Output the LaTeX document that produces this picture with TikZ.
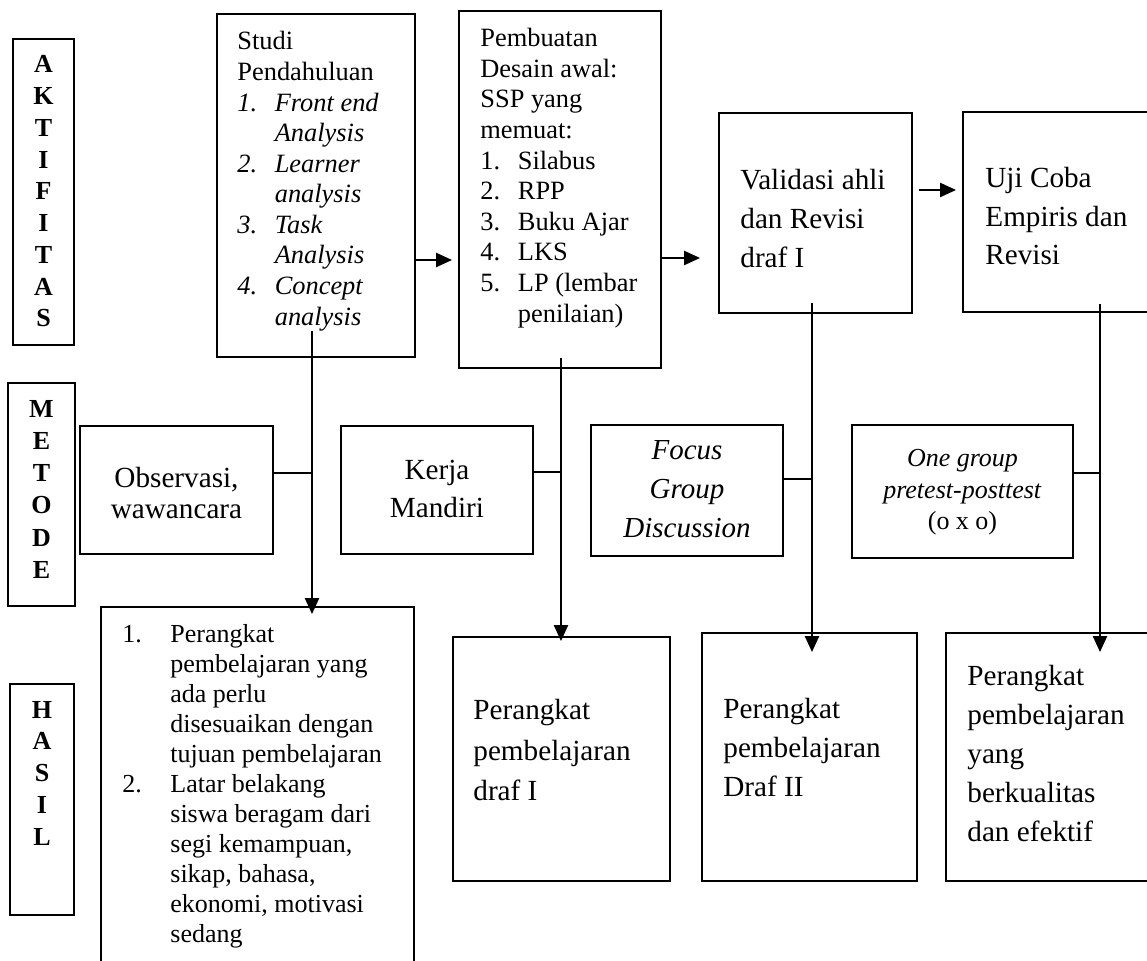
\documentclass[tikz,border=0pt]{standalone}
\usepackage{fontspec}
\setmainfont{Liberation Serif}
\usetikzlibrary{arrows.meta,calc}
\newcommand{\numlab}[2]{\makebox[#1][l]{#2}}
\tikzset{
 box/.style={draw, line width=0.9pt, rectangle, inner sep=0pt},
 conn/.style={line width=1.1pt},
 arr/.style={line width=1.1pt, -{Triangle[length=8pt,width=7pt]}},
 txt/.style={inner sep=0pt, anchor=base west},
 ctxt/.style={inner sep=0pt, anchor=base},
}
\begin{document}
\begin{tikzpicture}[x=0.5pt,y=-0.5pt]
\useasboundingbox (0,0) rectangle (1147,961);
\clip (0,0) rectangle (1147,961);
\fill[white] (0,0) rectangle (1147,961);

% boxes
\node[box, minimum width=30.5pt, minimum height=153pt] (akt) at (43.5,192) {};
\node[box, minimum width=33.5pt, minimum height=111.5pt] (met) at (41.5,494.5) {};
\node[box, minimum width=32pt, minimum height=115.5pt] (has) at (42,799.5) {};
\node[box, minimum width=99pt, minimum height=171.5pt] (studi) at (316,185.5) {};
\node[box, minimum width=101pt, minimum height=178.5pt] (pemb) at (560,189.5) {};
\node[box, minimum width=96.5pt, minimum height=100pt] (val) at (815.5,213) {};
\node[box, minimum width=98.5pt, minimum height=100pt] (uji) at (1061.5,212) {};
\node[box, minimum width=96.5pt, minimum height=64pt] (obs) at (176.5,490) {};
\node[box, minimum width=96pt, minimum height=64pt] (kerja) at (437,490) {};
\node[box, minimum width=96pt, minimum height=65.5pt] (fgd) at (687,490.5) {};
\node[box, minimum width=110.5pt, minimum height=66.5pt] (one) at (962.5,491.5) {};
\node[box, minimum width=156.5pt, minimum height=184pt] (h1) at (257.5,791) {};
\node[box, minimum width=108.5pt, minimum height=122pt] (h2) at (561.5,759) {};
\node[box, minimum width=107.5pt, minimum height=124pt] (h3) at (809.5,757) {};
\node[box, minimum width=107pt, minimum height=124pt] (h4) at (1053,757) {};

% side labels
\node[ctxt] (aktT) at (43.5,73) {\parbox[t]{20pt}{\centering\bfseries\fontsize{13}{15.875}\selectfont A\\K\\T\\I\\F\\I\\T\\A\\S}};
\node[ctxt] (metT) at (41.5,417.3) {\parbox[t]{20pt}{\centering\bfseries\fontsize{13}{16.1}\selectfont M\\E\\T\\O\\D\\E}};
\node[ctxt] (hasT) at (42,718.3) {\parbox[t]{20pt}{\centering\bfseries\fontsize{13}{15.85}\selectfont H\\A\\S\\I\\L}};

% activity texts
\node[txt] (studiT) at (237,50) {\parbox[t]{92pt}{\raggedright\fontsize{13.2}{15.28}\selectfont Studi\\Pendahuluan\\\itshape
\numlab{18.7pt}{1.}Front end\\\hspace*{18.7pt}Analysis\\
\numlab{18.7pt}{2.}Learner\\\hspace*{18.7pt}analysis\\
\numlab{18.7pt}{3.}Task\\\hspace*{18.7pt}Analysis\\
\numlab{18.7pt}{4.}Concept\\\hspace*{18.7pt}analysis}};
\node[txt] (pembT) at (480,46.7) {\parbox[t]{92pt}{\raggedright\fontsize{13.2}{15.3}\selectfont Pembuatan\\Desain awal:\\SSP yang\\memuat:\\
\numlab{18.75pt}{1.}Silabus\\
\numlab{18.75pt}{2.}RPP\\
\numlab{18.75pt}{3.}Buku Ajar\\
\numlab{18.75pt}{4.}LKS\\
\numlab{18.75pt}{5.}LP (lembar\\\hspace*{18.75pt}penilaian)}};
\node[txt] (valT) at (740,190) {\parbox[t]{90pt}{\raggedright\fontsize{14.6}{19.5}\selectfont Validasi ahli\\dan Revisi\\draf I}};
\node[txt] (ujiT) at (985,188) {\parbox[t]{90pt}{\raggedright\fontsize{14.6}{19.25}\selectfont Uji Coba\\Empiris dan\\Revisi}};

% method texts
\node[ctxt] (obsT) at (176.5,488) {\parbox[t]{90pt}{\centering\fontsize{14.6}{15.5}\selectfont Observasi,\\wawancara}};
\node[ctxt] (kerjaT) at (437,480) {\parbox[t]{90pt}{\centering\fontsize{14.6}{19}\selectfont Kerja\\Mandiri}};
\node[ctxt] (fgdT) at (687,460) {\parbox[t]{90pt}{\centering\itshape\fontsize{14.5}{19.5}\selectfont Focus\\Group\\Discussion}};
\node[ctxt] (oneT) at (962.5,466.7) {\parbox[t]{105pt}{\centering\fontsize{13}{15.75}\selectfont \textit{One group}\\\textit{pretest-posttest}\\(o x o)}};

% result texts
\node[txt] (h1T) at (122,643) {\parbox[t]{150pt}{\raggedright\fontsize{13}{15}\selectfont
\numlab{24pt}{1.}Perangkat\\\hspace*{24pt}pembelajaran yang\\\hspace*{24pt}ada perlu\\\hspace*{24pt}disesuaikan dengan\\\hspace*{24pt}tujuan pembelajaran\\
\numlab{24pt}{2.}Latar belakang\\\hspace*{24pt}siswa beragam dari\\\hspace*{24pt}segi kemampuan,\\\hspace*{24pt}sikap, bahasa,\\\hspace*{24pt}ekonomi, motivasi\\\hspace*{24pt}sedang}};
\node[txt] (h2T) at (473,720) {\parbox[t]{100pt}{\raggedright\fontsize{14.6}{20.25}\selectfont Perangkat\\pembelajaran\\draf I}};
\node[txt] (h3T) at (723,718.3) {\parbox[t]{100pt}{\raggedright\fontsize{14.6}{19.6}\selectfont Perangkat\\pembelajaran\\Draf II}};
\node[txt] (h4T) at (967,686) {\parbox[t]{100pt}{\raggedright\fontsize{14.6}{19.5}\selectfont Perangkat\\pembelajaran\\yang\\berkualitas\\dan efektif}};

% helper coordinates
\coordinate (c1) at (312,0);
\coordinate (c2) at (561,0);
\coordinate (c3) at (812,0);
\coordinate (c4) at (1100,0);
\coordinate (r1) at (0,260);
\coordinate (r2) at (0,258);
\coordinate (r3) at (0,190);
\coordinate (m1) at (0,473);
\coordinate (m2) at (0,472);
\coordinate (m3) at (0,479);
\coordinate (m4) at (0,473);

% horizontal arrows
\draw[arr, shorten >=3pt] (studi.east |- r1) -- (pemb.west |- r1);
\draw[arr, shorten >=9pt] (pemb.east |- r2) -- (val.west |- r2);
\draw[arr, shorten <=3pt, shorten >=3pt] (val.east |- r3) -- (uji.west |- r3);

% vertical arrows
\draw[arr, shorten <=-13.5pt, shorten >=-4pt] (c1 |- studi.south) -- (c1 |- h1.north);
\draw[arr, shorten <=-5.5pt, shorten >=-2.5pt] (c2 |- pemb.south) -- (c2 |- h2.north);
\draw[arr, shorten <=-5.5pt, shorten >=-10pt] (c3 |- val.south) -- (c3 |- h3.north);
\draw[arr, shorten <=-4.5pt, shorten >=-10pt] (c4 |- uji.south) -- (c4 |- h4.north);

% method links
\draw[conn] (obs.east |- m1) -- (c1 |- m1);
\draw[conn] (kerja.east |- m2) -- (c2 |- m2);
\draw[conn] (fgd.east |- m3) -- (c3 |- m3);
\draw[conn] (one.east |- m4) -- (c4 |- m4);
\end{tikzpicture}
\end{document}
